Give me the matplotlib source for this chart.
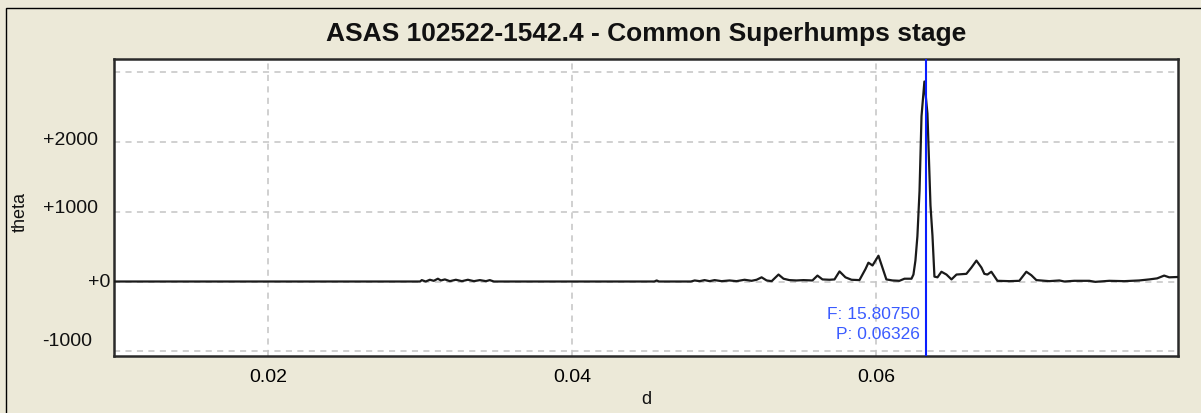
import matplotlib
matplotlib.use("Agg")
import matplotlib.pyplot as plt
from matplotlib.patches import Rectangle
from matplotlib.transforms import blended_transform_factory

plt.rcParams["font.family"] = ["Liberation Sans", "DejaVu Sans"]

BG = "#ECE9D8"
CURVE = "#1A1A1A"
MARK = "#0A1EFF"
LABEL_BLUE = "#3A5BFF"
GRID = "#C4C4C4"

# periodogram (d, theta)
period = [
    0.00988, 0.0300, 0.03011, 0.03037, 0.03064, 0.0309, 0.03117, 0.03137,
    0.03163, 0.03196, 0.03235, 0.03275, 0.03314, 0.03354, 0.03393, 0.03433,
    0.03458, 0.03485, 0.04540, 0.04555, 0.04570, 0.04780, 0.04805, 0.04838,
    0.04870, 0.04903, 0.04936, 0.04982, 0.05034, 0.05080, 0.05133, 0.05179,
    0.05212, 0.05245, 0.05278, 0.05311, 0.05356, 0.05389, 0.05428, 0.05474,
    0.05520, 0.05579, 0.05612, 0.05645, 0.05691, 0.05724, 0.05757, 0.05796,
    0.05836, 0.05888, 0.05928, 0.05947, 0.05974, 0.06013, 0.06039, 0.06065,
    0.06105, 0.06151, 0.06184, 0.06230, 0.06243, 0.06256, 0.06269, 0.06283,
    0.06296, 0.06315, 0.06335, 0.06355, 0.06368, 0.06381, 0.06401, 0.06427,
    0.06460, 0.06493, 0.06526, 0.06591, 0.06624, 0.06657, 0.06690, 0.06709,
    0.06729, 0.06755, 0.06795, 0.06874, 0.06939, 0.06985, 0.07018, 0.07051,
    0.07136, 0.07202, 0.07235, 0.07300, 0.07399, 0.07438, 0.07530, 0.07629,
    0.07727, 0.07793, 0.07845, 0.07891, 0.07924, 0.07982,
]
theta = [
    0, 0, 20, 0, 25, 10, 40, 15,
    30, 5, 25, 5, 25, 5, 20, 5,
    20, 0, 0, 15, 0, 0, 15, 5,
    20, 5, 20, 5, 15, 5, 25, 10,
    25, 60, 15, 5, 100, 40, 20, 15,
    20, 15, 85, 30, 25, 30, 145, 60,
    25, 20, 180, 270, 230, 370, 200, 30,
    15, 10, 40, 40, 100, 300, 650, 1300,
    2370, 2870, 2410, 1090, 660, 70, 60, 140,
    100, 30, 100, 110, 200, 300, 200, 110,
    100, 140, 10, 5, 10, 140, 90, 20,
    5, 15, 0, 10, 10, -5, 10, 5,
    15, 30, 45, 85, 60, 65,
]

peak_period = 0.06326
peak_freq = 15.80750

x_ticks = [0.02, 0.04, 0.06]
x_ticklabels = ["0.02", "0.04", "0.06"]
y_ticks = [-1000, 0, 1000, 2000, 3000]
y_ticklabels = ["-1000", "+0", "+1000", "+2000", ""]

fig = plt.figure(figsize=(12.01, 4.14), dpi=100, facecolor=BG)
fig.patches.append(Rectangle((6 / 1201, -0.2), 1.2, 0.2 + (1 - 9 / 414),
                             transform=fig.transFigure, fill=False,
                             edgecolor="black", linewidth=1.0))

ax = fig.add_axes([114 / 1201, 1 - 357 / 414, (1178 - 114) / 1201, (357 - 60) / 414])
ax.set_facecolor("white")
ax.set_xlim(0.00988, 0.07982)
ax.set_ylim(-1069, 3193)

ax.set_xticks(x_ticks)
ax.set_xticklabels(x_ticklabels)
ax.set_yticks(y_ticks)
ax.set_yticklabels([])
ax.tick_params(axis="both", length=0, labelsize=14, pad=9)
ax.grid(True, color=GRID, linestyle=(0, (4, 3.5)), linewidth=1.1)
ax.set_axisbelow(True)
for s in ax.spines.values():
    s.set_linewidth(1.8)
    s.set_edgecolor("#2A2A2A")

# y labels are not aligned the same way in the original
trans = blended_transform_factory(ax.transAxes, ax.transData)
y_label_right = [-22, -4, -16, -16, 0]
y_label_shift = [150, 0, 60, 40, 0]
for v, lab, dx, dy in zip(y_ticks, y_ticklabels, y_label_right, y_label_shift):
    if lab:
        ax.annotate(lab, xy=(0, v + dy), xycoords=trans, xytext=(dx, 0),
                    textcoords="offset pixels", ha="right", va="center",
                    fontsize=14, color="#111111")

ax.plot(period, theta, color=CURVE, linewidth=1.6, zorder=3)
ax.axvline(peak_period, color=MARK, linewidth=1.5, zorder=4)
ax.annotate(f"F: {peak_freq:.5f}\nP: {peak_period:.5f}", xy=(peak_period, -60),
            xytext=(-6, -20), textcoords="offset pixels", ha="right", va="top",
            fontsize=12.5, color=LABEL_BLUE, linespacing=1.45, zorder=5)

fig.text(646 / 1201, 1 - 34 / 414, "ASAS 102522-1542.4 - Common Superhumps stage",
         ha="center", va="center", fontsize=19, fontweight="bold", color="#111111")
fig.text(646 / 1201, 1 - 400 / 414, "d", ha="center", va="center", fontsize=13,
         color="#111111")
fig.text(20 / 1201, 1 - 212 / 414, "theta", ha="center", va="center",
         rotation=90, fontsize=13, color="#111111")

fig.savefig("out.png", dpi=100, facecolor=BG)
